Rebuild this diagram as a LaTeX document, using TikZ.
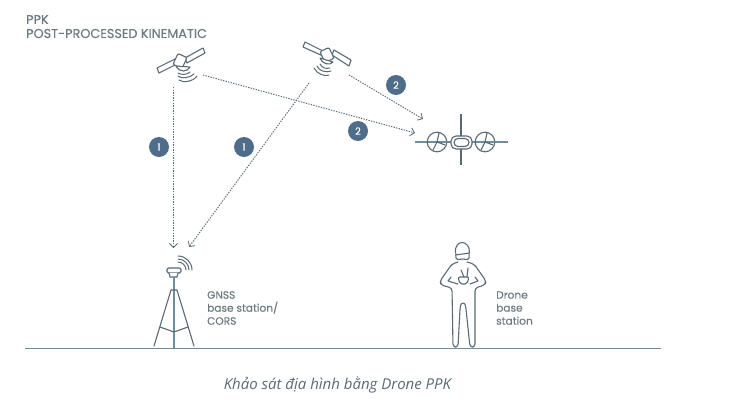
\documentclass[tikz,border=0pt]{standalone}
\usepackage{fontspec}
\setmainfont{Poppins}[FakeBold=0.25]
\newfontfamily\capfont{Open Sans}
\usetikzlibrary{arrows.meta}
\definecolor{ink}{HTML}{5A6A74}
\definecolor{badgeblue}{HTML}{4F6D8A}
\definecolor{groundc}{HTML}{6F8C9C}
\definecolor{txt}{HTML}{6C7A82}
\tikzset{
  link/.style={dash pattern=on 1.3pt off 1.3pt,draw=ink,line width=1pt,-{Straight Barb[length=4pt,width=8pt,line width=0.8pt]}},
  badge/.style={circle,fill=badgeblue,text=white,minimum size=20pt,inner sep=0pt,font=\fontsize{10}{10}\selectfont},
  lbl/.style={anchor=west,text=txt,font=\fontsize{10.6}{13}\selectfont,align=left,inner sep=0pt},
  thin line/.style={draw=ink,line width=1.1pt,line join=round,line cap=round},
  wave/.style={draw=ink,line width=1pt,line cap=round}
}
\begin{document}
\begin{tikzpicture}[x=1pt,y=-1pt]
\useasboundingbox (0,0) rectangle (738,402);
\fill[white] (0,0) rectangle (738,402);
% titles
\node[anchor=west,text=txt,inner sep=0pt,font=\fontsize{12.8}{12}\selectfont] (t1) at (26,19.5) {PPK};
\node[anchor=west,text=txt,inner sep=0pt,font=\fontsize{12.8}{12}\selectfont] (t2) at (26,33.5) {POST-PROCESSED KINEMATIC};
% anchors
\coordinate (s1a) at (173.5,87);
\coordinate (s1b) at (203,75);
\coordinate (s2a) at (309,83);
\coordinate (s2b) at (349,75);
\coordinate (gA) at (173.5,248);
\coordinate (gB) at (189,247);
\coordinate (dA) at (415,133);
\coordinate (dB) at (423,119);
% connectors
\draw[link] (s1a) -- (gA);
\draw[link] (s2a) -- (gB);
\draw[link] (s1b) -- (dA);
\draw[link] (s2b) -- (dB);
% badges
\node[badge] (b1) at (159,147) {1};
\node[badge] (b2) at (244,147) {1};
\node[badge] (b3) at (396,85) {2};
\node[badge] (b4) at (358,131) {2};
% satellite 1
\draw[thin line,fill=white] (157,68) -- (175,59) -- (177,64) -- (159,73) -- cycle;
\draw[thin line,fill=white] (185,58) -- (203,48) -- (205,53) -- (187,63) -- cycle;
\draw[thin line,fill=white,rounded corners=2pt,rotate around={-25:(180,61)}] (175,55) rectangle (185,67);
\draw[thin line,fill=white] (176,66) .. controls (180,73) and (187,72) .. (190,67) -- cycle;
\draw[wave] (178,73) .. controls (181,75) and (187,75) .. (190,72);
\draw[wave] (178,76) .. controls (181,79) and (190,78) .. (194,74);
\draw[wave] (179,80) .. controls (183,83) and (193,82) .. (197,76);
% satellite 2
\draw[thin line,fill=white] (303,47) -- (305,42) -- (325,52) -- (323,56) -- cycle;
\draw[thin line,fill=white] (332,55) -- (334,50) -- (351,60) -- (349,66) -- cycle;
\draw[thin line,fill=white,rounded corners=2pt,rotate around={25:(327,55)}] (322,49) rectangle (332,61);
\draw[thin line,fill=white] (320,58) .. controls (322,64) and (330,66) .. (333,62) -- cycle;
\draw[wave] (320,64) .. controls (322,68) and (326,69) .. (330,68);
\draw[wave] (317,66) .. controls (319,71) and (326,73) .. (331,71);
\draw[wave] (314,68) .. controls (317,74) and (325,77) .. (329,75);
% drone
\draw[draw=groundc,line width=1.8pt] (415,142) -- (508,142);
\draw[draw=ink,line width=1.2pt] (461,114) -- (461,165);
\foreach \cx in {437,485}{
  \draw[thin line,fill=white] (\cx,142) circle[radius=9.8];
  \draw[draw=groundc,line width=1.8pt] (\cx-9.5,142) -- (\cx+9.5,142);
  \draw[thin line] (\cx,142) -- (\cx+2,133) (\cx,142) -- (\cx+8,145) (\cx,142) -- (\cx-4,150);
}
\draw[thin line,fill=white,rounded corners=5pt] (451,136) rectangle (472,149);
\draw[thin line,fill=white,rounded corners=4pt] (454,138.5) rectangle (469,146.5);
% base station
\draw[thin line,fill=white,rounded corners=1.5pt] (167,268) rectangle (181,273);
\draw[thin line,fill=white] (169,273) -- (170,277) -- (177,277) -- (178,273);
\draw[draw=groundc,line width=1.5pt] (174,277) -- (174,348);
\draw[thin line] (154,346) -- (171,290) -- (177,290) -- (194,346);
\draw[thin line] (160,327) -- (174,332) -- (188,327);
\draw[wave] (178,256) arc[start angle=-90,end angle=0,radius=14];
\draw[wave] (178,259) arc[start angle=-90,end angle=0,radius=11];
\draw[wave] (178,262) arc[start angle=-90,end angle=0,radius=8];
\node[lbl] (gn) at (207,308) {GNSS\\base station/\\CORS};
% person
\draw[thin line] (456,254) .. controls (455,262) and (459,259) .. (462.5,259) .. controls (466,259) and (470,262) .. (469,254);
\draw[thin line] (455.5,253) .. controls (454,239) and (470,239) .. (469.5,253) -- (455.5,255);
\draw[thin line,rounded corners=3pt]
  (458,262) -- (452,264) -- (440,281) -- (441,285) -- (452,288) -- (453,347) -- (458,347) -- (460,309)
  .. controls (461,302) and (465,302) .. (466,309) -- (470,347) -- (475,347) -- (475,288) -- (485,285) -- (486,281) -- (474,264) -- (467,262);
\draw[thin line] (451,277) -- (448,281) -- (458,284) (475,277) -- (478,281) -- (470,284);
\draw[thin line,rounded corners=2pt] (458,277) -- (469,277) -- (467,284) -- (460,284) -- cycle;
\draw[thin line] (461,270) -- (464,277) (468,268) -- (467,277);
\node[lbl] (ds) at (496,308) {Drone\\base\\station};
% ground
\draw[draw=groundc,line width=1.5pt] (25,348.5) -- (661,348.5);
% caption
\node[anchor=center,text=ink,inner sep=0pt,font=\capfont\itshape\fontsize{15}{15}\selectfont] (cap) at (337.5,385) {Khảo sát địa hình bằng Drone PPK};
\end{tikzpicture}
\end{document}
